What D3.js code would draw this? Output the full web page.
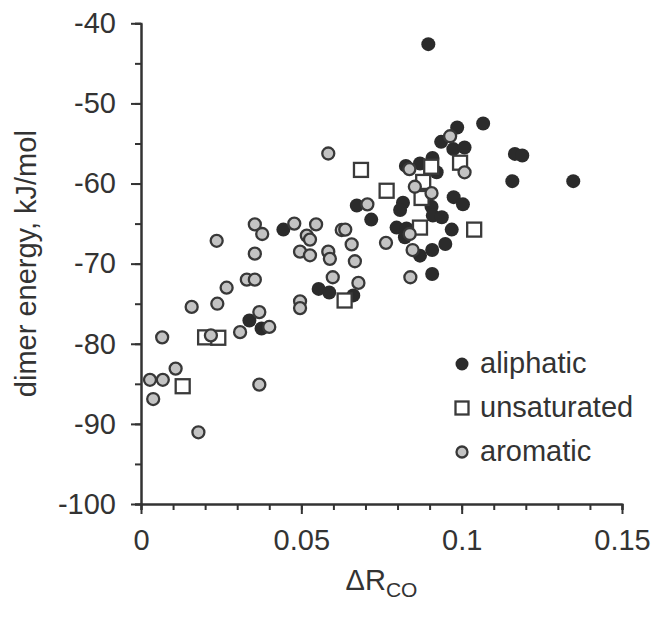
<!DOCTYPE html>
<html>
<head>
<meta charset="utf-8">
<script src="https://cdn.jsdelivr.net/npm/d3@7"></script>
<style>
    body { margin: 0; background: #fff; }
    svg text { font-family: "Liberation Sans", Arial, sans-serif; fill: #333; }
</style>
</head>
<body>
<svg id="chart" width="656" height="617"></svg>
<script>
    // aliphatic series [dR_CO, dimer energy]
    var aliphatic = [
        [0.0896, -42.6], [0.0986, -53.0], [0.1067, -52.5], [0.0936, -54.8],
        [0.0974, -55.7], [0.1009, -55.5], [0.0826, -57.8], [0.0870, -57.5],
        [0.0909, -56.8], [0.0922, -58.6], [0.1166, -56.3], [0.1189, -56.5],
        [0.1158, -59.7], [0.1348, -59.7], [0.0975, -61.7], [0.1004, -62.6],
        [0.0817, -62.4], [0.0808, -63.3], [0.0906, -62.9], [0.0910, -64.0],
        [0.0938, -64.2], [0.0718, -64.5], [0.0673, -62.75], [0.0797, -65.5],
        [0.0828, -65.6], [0.0823, -66.7], [0.0969, -65.75], [0.0949, -67.55],
        [0.0908, -68.3], [0.0870, -69.0], [0.0908, -71.3], [0.0444, -65.75],
        [0.0338, -77.1], [0.0376, -78.1], [0.0554, -73.15], [0.0587, -73.6],
        [0.0662, -73.96]
    ];

    var unsaturated = [
        [0.0200, -79.2], [0.0241, -79.25], [0.0130, -85.3], [0.0635, -74.6],
        [0.0686, -58.3], [0.0766, -60.9], [0.0880, -59.8], [0.0875, -61.8],
        [0.0870, -65.5], [0.1039, -65.75], [0.0995, -57.4], [0.0905, -57.9]
    ];

    var aromatic = [
        [0.0158, -75.4], [0.0238, -75.0], [0.0267, -73.0], [0.0330, -72.0],
        [0.0355, -72.0], [0.0066, -79.2], [0.0218, -78.96], [0.0309, -78.55],
        [0.0369, -76.05], [0.0400, -77.9], [0.0108, -83.1], [0.0028, -84.5],
        [0.0068, -84.5], [0.0038, -86.9], [0.0369, -85.1], [0.0179, -91.05],
        [0.0236, -67.15], [0.0355, -68.75], [0.0355, -65.1], [0.0378, -66.3],
        [0.0478, -65.0], [0.0546, -65.1], [0.0517, -66.5], [0.0527, -67.0],
        [0.0496, -68.5], [0.0527, -68.96], [0.0496, -74.7], [0.0496, -75.55],
        [0.0626, -65.8], [0.0637, -65.75], [0.0657, -67.6], [0.0584, -68.5],
        [0.0589, -69.4], [0.0667, -69.7], [0.0598, -71.7], [0.0678, -72.4],
        [0.0584, -56.25], [0.0706, -62.6], [0.0764, -67.4], [0.0964, -54.1],
        [0.1009, -58.6], [0.0837, -58.2], [0.0854, -60.4], [0.0906, -61.2],
        [0.0838, -66.3], [0.0847, -68.3], [0.0840, -71.7]
    ];

    var xTicks = [0, 0.05, 0.1, 0.15],
        xMinorTicks = d3.range(0, 16).map(function (i) { return i / 100; }),
        yTicks = [-100, -90, -80, -70, -60, -50, -40],
        yMinorTicks = d3.range(-100, -35, 5),
        legendItems = ["aliphatic", "unsaturated", "aromatic"];

    var margin = {top: 23.3, right: 34, bottom: 113, left: 141},
        width = 656 - margin.left - margin.right,
        height = 617 - margin.top - margin.bottom,
        inkColor = "#333",
        darkFill = "#2b2b2b",
        greyFill = "#c3c3c3";

    var svg = d3.select("#chart");
    var g = svg.append("g")
        .attr("transform", "translate(" + margin.left + "," + margin.top + ")");

    var x = d3.scaleLinear().domain([0, 0.15]).range([0, width]);
    var y = d3.scaleLinear().domain([-100, -40]).range([height, 0]);

    //minor ticks first, then the labelled axes on top
    g.append("g")
        .attr("transform", "translate(0," + height + ")")
        .call(d3.axisBottom(x).tickValues(xMinorTicks).tickSize(6).tickFormat(""));
    g.append("g")
        .call(d3.axisLeft(y).tickValues(yMinorTicks).tickSize(6).tickFormat(""));

    var xAxis = g.append("g")
        .attr("transform", "translate(0," + height + ")")
        .call(d3.axisBottom(x).tickValues(xTicks).tickSize(10).tickSizeOuter(0).tickPadding(15)
            .tickFormat(function (d) { return String(d); }));
    var yAxis = g.append("g")
        .call(d3.axisLeft(y).tickValues(yTicks).tickSize(10).tickSizeOuter(0).tickPadding(15)
            .tickFormat(function (d) { return String(d).replace("\u2212", "-"); }));

    g.selectAll(".domain, .tick line")
        .attr("stroke", inkColor)
        .attr("stroke-width", 2);
    [xAxis, yAxis].forEach(function (ax) {
        ax.selectAll("text")
            .style("font-size", "29px")
            .attr("fill", inkColor);
    });

    // aliphatic underneath, squares next, aromatic on top
    g.append("g").selectAll("circle")
        .data(aliphatic)
        .enter()
        .append("circle")
        .attr("cx", function (d) { return x(d[0]); })
        .attr("cy", function (d) { return y(d[1]); })
        .attr("r", 7)
        .attr("fill", darkFill);

    g.append("g").selectAll("rect")
        .data(unsaturated)
        .enter()
        .append("rect")
        .attr("x", function (d) { return x(d[0]) - 7; })
        .attr("y", function (d) { return y(d[1]) - 7; })
        .attr("width", 14)
        .attr("height", 14)
        .attr("fill", "#fff")
        .attr("stroke", "#3a3a3a")
        .attr("stroke-width", 2.3);

    g.append("g").selectAll("circle")
        .data(aromatic)
        .enter()
        .append("circle")
        .attr("cx", function (d) { return x(d[0]); })
        .attr("cy", function (d) { return y(d[1]); })
        .attr("r", 6)
        .attr("fill", greyFill)
        .attr("stroke", "#383838")
        .attr("stroke-width", 2.3);

    //legend
    var legend = svg.append("g").attr("transform", "translate(462,364)");
    legendItems.forEach(function (name, i) {
        var row = legend.append("g").attr("transform", "translate(0," + (i * 44) + ")");
        if (i === 0) {
            row.append("circle").attr("r", 6.5).attr("fill", darkFill);
        } else if (i === 1) {
            row.append("rect").attr("x", -6.5).attr("y", -6.5).attr("width", 13).attr("height", 13)
                .attr("fill", "#fff").attr("stroke", "#3a3a3a").attr("stroke-width", 2.3);
        } else {
            row.append("circle").attr("r", 5.5).attr("fill", greyFill)
                .attr("stroke", "#383838").attr("stroke-width", 2.3);
        }
        row.append("text")
            .attr("x", 18)
            .attr("y", 9)
            .style("font-size", "29px")
            .text(name);
    });

    //axis titles
    svg.append("text")
        .attr("transform", "translate(36," + (margin.top + height / 2) + ") rotate(-90)")
        .attr("text-anchor", "middle")
        .style("font-size", "29px")
        .text("dimer energy, kJ/mol");

    var xTitle = svg.append("text")
        .attr("x", margin.left + width / 2)
        .attr("y", 590)
        .attr("text-anchor", "middle")
        .style("font-size", "29px");
    xTitle.append("tspan").text("\u0394R");
    xTitle.append("tspan").attr("dy", 7).style("font-size", "21px").text("CO");
</script>
</body>
</html>
